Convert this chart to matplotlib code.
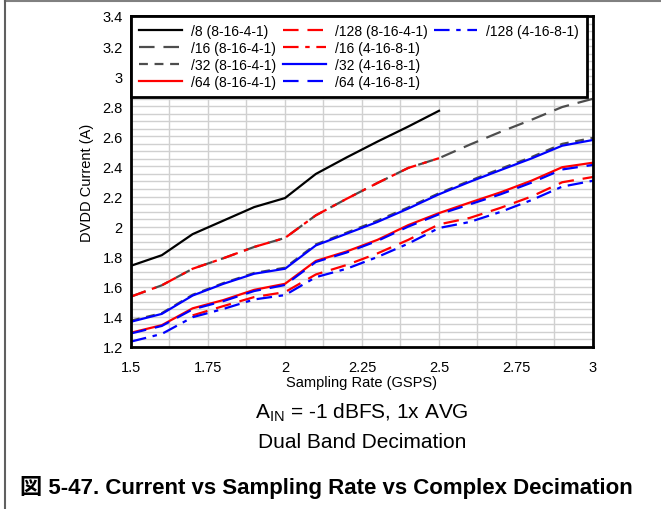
import numpy as np
import matplotlib
matplotlib.use("Agg")
import matplotlib.pyplot as plt
from matplotlib.lines import Line2D
from matplotlib.ticker import MultipleLocator, FuncFormatter

plt.rcParams['font.family'] = ['Liberation Sans', 'Noto Sans CJK JP', 'DejaVu Sans']

# Sampling rate (GSPS)
rate_full = [1.5, 1.6, 1.7, 1.8, 1.9, 2.0, 2.1, 2.2, 2.3, 2.4, 2.5, 2.6, 2.7, 2.8, 2.9, 3.0]
rate_to25 = [1.5, 1.6, 1.7, 1.8, 1.9, 2.0, 2.1, 2.2, 2.3, 2.4, 2.5]
rate_from17 = [1.7, 1.8, 1.9, 2.0, 2.1, 2.2, 2.3, 2.4, 2.5, 2.6, 2.7, 2.8, 2.9, 3.0]

# DVDD current (A)
d8_8161 = [1.74, 1.81, 1.95, 2.04, 2.13, 2.19, 2.35, 2.46, 2.565, 2.665, 2.77]
d16_8161 = [1.535, 1.61, 1.72, 1.79, 1.865, 1.925, 2.075, 2.185, 2.29, 2.39, 2.455,
            2.545, 2.63, 2.71, 2.795, 2.85]
d32_8161 = [1.375, 1.425, 1.547, 1.625, 1.692, 1.727, 1.882, 1.96, 2.04, 2.128, 2.222,
            2.305, 2.385, 2.462, 2.55, 2.59]
d64_8161 = [1.295, 1.345, 1.457, 1.512, 1.58, 1.62, 1.772, 1.835, 1.912, 2.01, 2.09,
            2.16, 2.228, 2.305, 2.395, 2.425]
d128_8161 = [1.41, 1.472, 1.532, 1.565, 1.682, 1.745, 1.822, 1.912, 2.015,
             2.058, 2.125, 2.2, 2.295, 2.33]
d16_4168 = [1.535, 1.61, 1.72, 1.79, 1.865, 1.925, 2.075, 2.185, 2.29, 2.39, 2.455]
d32_4168 = [1.368, 1.42, 1.542, 1.62, 1.687, 1.72, 1.875, 1.953, 2.031, 2.12, 2.215,
            2.298, 2.376, 2.453, 2.538, 2.576]
d64_4168 = [1.29, 1.34, 1.45, 1.505, 1.572, 1.612, 1.765, 1.828, 1.905, 2.0, 2.082,
            2.148, 2.215, 2.292, 2.38, 2.41]
d128_4168 = [1.236, 1.287, 1.398, 1.453, 1.516, 1.545, 1.664, 1.72, 1.798, 1.887, 1.991,
             2.031, 2.098, 2.176, 2.266, 2.305]

gray = '#4d4d4d'
lw = 1.6
series = [
    (rate_to25, d8_8161, 'black', '-', '/8 (8-16-4-1)'),
    (rate_full, d16_8161, gray, (0, (7, 4)), '/16 (8-16-4-1)'),
    (rate_full, d32_8161, gray, (0, (4, 3)), '/32 (8-16-4-1)'),
    (rate_full, d64_8161, 'red', '-', '/64 (8-16-4-1)'),
    (rate_from17, d128_8161, 'red', (0, (7, 4)), '/128 (8-16-4-1)'),
    (rate_to25, d16_4168, 'red', (0, (7, 3, 2, 3)), '/16 (4-16-8-1)'),
    (rate_full, d32_4168, 'blue', '-', '/32 (4-16-8-1)'),
    (rate_full, d64_4168, 'blue', (0, (7, 4)), '/64 (4-16-8-1)'),
    (rate_full, d128_4168, 'blue', (0, (7, 3, 2, 3)), '/128 (4-16-8-1)'),
]

fig = plt.figure(figsize=(6.61, 5.10), dpi=100)
ax = fig.add_axes([131 / 661, 1 - 348 / 510, 462 / 661, 331 / 510])

handles = []
labels = []
for x, y, c, ls, lab in series:
    h, = ax.plot(x, y, color=c, linestyle=ls, linewidth=lw)
    handles.append(h)
    labels.append(lab)
# blank slots so the legend fills 4 rows per column
for _ in range(3):
    handles.append(Line2D([], [], linestyle='none'))
    labels.append('')

ax.set_xlim(1.5, 3.0)
ax.set_ylim(1.2, 3.4)
ax.xaxis.set_major_locator(MultipleLocator(0.25))
ax.xaxis.set_minor_locator(MultipleLocator(0.125))
ax.yaxis.set_major_locator(MultipleLocator(0.2))
ax.yaxis.set_minor_locator(MultipleLocator(0.05))
fmt = FuncFormatter(lambda v, p: ('%.2f' % v).rstrip('0').rstrip('.'))
ax.xaxis.set_major_formatter(fmt)
ax.yaxis.set_major_formatter(fmt)
ax.grid(which='both', color='#d0d0d0', linewidth=1.0)
ax.set_axisbelow(True)
ax.tick_params(axis='y', which='both', length=0, labelsize=10.5, pad=6)
ax.tick_params(axis='x', which='both', length=0, labelsize=10.5, pad=9)
for s in ax.spines.values():
    s.set_linewidth(2)
    s.set_color('black')

ax.set_xlabel('Sampling Rate (GSPS)', fontsize=10.5, labelpad=1)
ax.set_ylabel('DVDD Current (A)', fontsize=10.5, labelpad=6)

leg = ax.legend(handles, labels, loc='upper left', bbox_to_anchor=(0.0, 1.0), ncol=3,
                fontsize=10, frameon=True, fancybox=False, framealpha=1,
                edgecolor='black', borderaxespad=0, handlelength=3.1,
                handletextpad=0.62, columnspacing=0.5, labelspacing=0.2,
                borderpad=0.6)
leg.get_frame().set_linewidth(2)

fig.text(362 / 661, 1 - 413 / 510, r'A$_{\mathregular{IN}}$ = -1 dBFS, 1x AVG',
         ha='center', va='center', fontsize=15)
fig.text(362 / 661, 1 - 443 / 510, 'Dual Band Decimation',
         ha='center', va='center', fontsize=15)
fig.text(326 / 661, 1 - 488 / 510, '図 5-47. Current vs Sampling Rate vs Complex Decimation',
         ha='center', va='center', fontsize=16, fontweight='bold')

# page frame edges
fig.add_artist(Line2D([5 / 661, 1], [1 - 1.5 / 510, 1 - 1.5 / 510], color='#808080', linewidth=1.5,
                      transform=fig.transFigure))
fig.add_artist(Line2D([5 / 661, 5 / 661], [0, 1 - 1.5 / 510], color='#606060', linewidth=1.5,
                      transform=fig.transFigure))

fig.savefig('out.png', dpi=100)
